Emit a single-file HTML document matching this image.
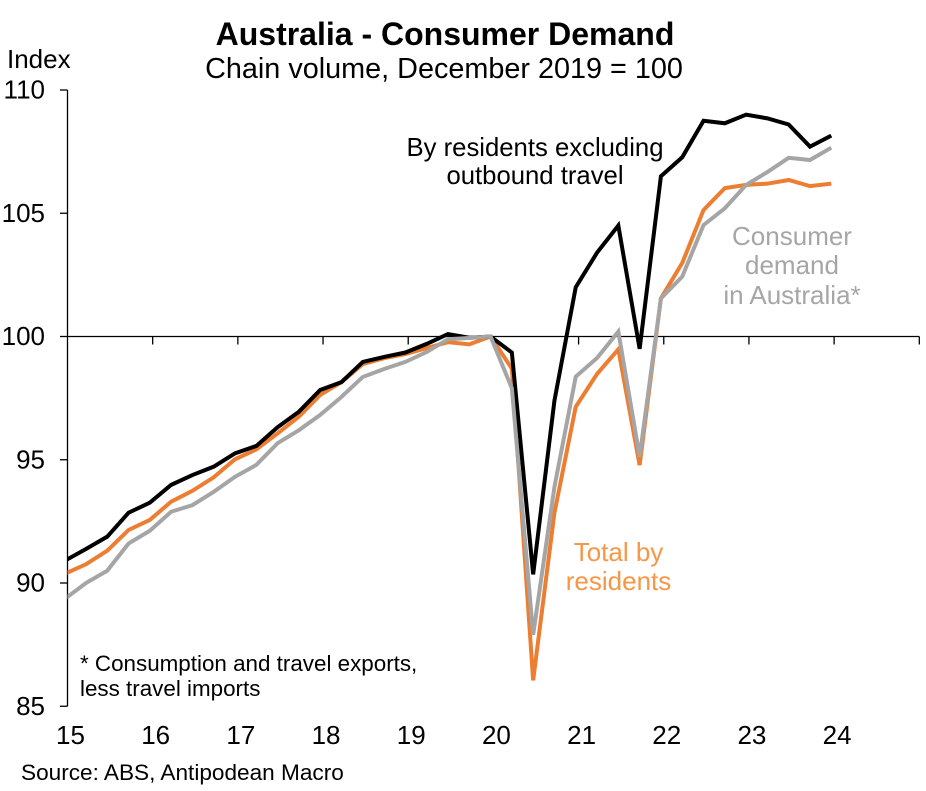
<!DOCTYPE html>
<html>
<head>
<meta charset="utf-8">
<title>Australia - Consumer Demand</title>
<style>
html,body{margin:0;padding:0;background:#fff;width:926px;height:791px;overflow:hidden}
svg{display:block;font-family:"Liberation Sans",Arial,sans-serif}
text{fill:#000}
</style>
</head>
<body>
<svg id="chart" width="926" height="791" viewBox="0 0 926 791" xmlns="http://www.w3.org/2000/svg">
  <defs><clipPath id="plot-clip"><rect x="67.5" y="80" width="860" height="640"/></clipPath></defs>
  <text x="445" y="45" text-anchor="middle" font-size="32" font-weight="bold">Australia - Consumer Demand</text>
  <text x="444" y="78" text-anchor="middle" font-size="28.8">Chain volume, December 2019 = 100</text>
  <text x="7" y="68" font-size="26">Index</text>
  <g id="axes"></g>
  <g id="series" clip-path="url(#plot-clip)"></g>
  <g font-size="25.7" text-anchor="middle">
    <text x="535" y="156">By residents excluding</text>
    <text x="535" y="184">outbound travel</text>
  </g>
  <g font-size="26" text-anchor="middle">
    <text x="792" y="245" style="fill:#a6a6a6">Consumer</text>
    <text x="792" y="274" style="fill:#a6a6a6">demand</text>
    <text x="792" y="304" style="fill:#a6a6a6">in Australia*</text>
  </g>
  <g font-size="26" text-anchor="middle">
    <text x="618.5" y="561" style="fill:#f79646">Total by</text>
    <text x="618.5" y="590" style="fill:#f79646">residents</text>
  </g>
  <g font-size="22.4">
    <text x="80" y="671">* Consumption and travel exports,</text>
    <text x="80" y="696">less travel imports</text>
  </g>
  <text x="21" y="780" font-size="22.6">Source: ABS, Antipodean Macro</text>
</svg>
<script>
// Quarter-end observations, Dec 2014 through Dec 2023
const firstQuarterYear = 2014.9667;
const excludingOutbound = [90.9,91.38,91.88,92.85,93.26,93.98,94.38,94.72,95.26,95.56,96.32,96.95,97.83,98.15,98.97,99.17,99.35,99.7,100.1,99.95,100,99.35,90.35,97.4,102,103.4,104.5,99.5,106.5,107.27,108.75,108.65,109,108.85,108.6,107.7,108.15];
const totalByResidents = [90.37,90.76,91.31,92.15,92.56,93.3,93.74,94.29,95.02,95.42,96.07,96.75,97.63,98.15,98.88,99.12,99.29,99.53,99.77,99.68,100,98.7,86.05,92.85,97.15,98.48,99.48,94.78,101.55,102.98,105.13,106.02,106.15,106.2,106.35,106.1,106.2];
const consumerDemand = [89.35,90,90.5,91.6,92.12,92.89,93.16,93.7,94.31,94.79,95.67,96.2,96.82,97.55,98.36,98.68,98.97,99.37,99.89,99.94,100,97.9,87.9,93.9,98.37,99.13,100.2,95.12,101.55,102.43,104.52,105.2,106.15,106.67,107.25,107.16,107.66];
const yTicks = [110,105,100,95,90,85];
const xYears = [2015,2016,2017,2018,2019,2020,2021,2022,2023,2024,2025];
const xLabels = ["15","16","17","18","19","20","21","22","23","24",""];

const NS = "http://www.w3.org/2000/svg";
function xScale(year){ return 67.5 + (year - 2015) * 85.18; }
function yScale(v){ return 336.5 - (v - 100) * 24.65; }
function line(x1,y1,x2,y2){
  const l = document.createElementNS(NS,"line");
  l.setAttribute("x1",x1); l.setAttribute("y1",y1);
  l.setAttribute("x2",x2); l.setAttribute("y2",y2);
  l.setAttribute("stroke","#000"); l.setAttribute("stroke-width","1.3");
  return l;
}
const axes = document.getElementById("axes");

const yAxisLine = line(xScale(2015), yScale(110), xScale(2015), yScale(85));


axes.appendChild(yAxisLine);

const xAxisLine = line(xScale(2015), yScale(100), xScale(2025), yScale(100));


axes.appendChild(xAxisLine);

yTicks.forEach(function(v){
  const t = line(60, yScale(v), xScale(2015), yScale(v));
  
  
  axes.appendChild(t);
  const lab = document.createElementNS(NS,"text");
  
  
  lab.setAttribute("x", 45);
  lab.setAttribute("y", yScale(v) + 8.5);
  lab.setAttribute("text-anchor", "end");
  lab.setAttribute("font-size", "26");
  lab.textContent = String(v);
  axes.appendChild(lab);
});

xYears.forEach(function(y,i){
  if(i > 0){
    const t = line(xScale(y), yScale(100), xScale(y), yScale(100) + 8);
    
    
    axes.appendChild(t);
  }
  if(xLabels[i]){
    const lab = document.createElementNS(NS,"text");
    
    
    lab.setAttribute("x", xScale(y) + 3);
    lab.setAttribute("y", 744);
    lab.setAttribute("text-anchor", "middle");
    lab.setAttribute("font-size", "26");
    lab.textContent = xLabels[i];
    axes.appendChild(lab);
  }
});

function seriesPoints(values){
  return values.map(function(v,i){
    return xScale(firstQuarterYear + i * 0.25).toFixed(2) + "," + yScale(v).toFixed(2);
  }).join(" ");
}
function drawSeries(values,color){
  const p = document.createElementNS(NS,"polyline");
  p.setAttribute("points", seriesPoints(values));
  p.setAttribute("fill", "none");
  p.setAttribute("stroke", color);
  p.setAttribute("stroke-width", "4");
  p.setAttribute("stroke-linejoin", "miter");
  p.setAttribute("stroke-miterlimit", "3");
  document.getElementById("series").appendChild(p);
  return p;
}
const orangeLine = drawSeries(totalByResidents, "#ed7d31");


const blackLine = drawSeries(excludingOutbound, "#000000");


const greyLine = drawSeries(consumerDemand, "#a5a5a5");


</script>
</body>
</html>
